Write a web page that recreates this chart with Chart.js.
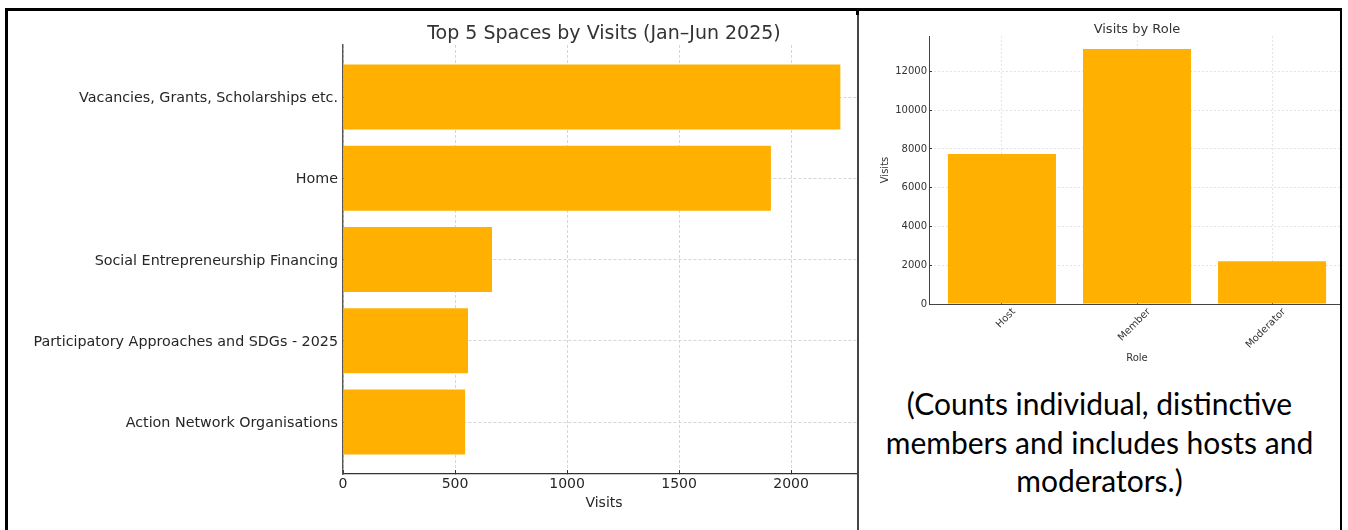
<!DOCTYPE html>
<html>
<head>
<meta charset="utf-8">
<script src="https://cdn.jsdelivr.net/npm/chart.js@4.4.1/dist/chart.umd.min.js"></script>
<style>
    body { margin: 0; background: #fff; width: 1348px; height: 530px; overflow: hidden; position: relative; }
    .line { position: absolute; background: #000; }
    .wrap { position: absolute; overflow: hidden; }
    #note {
        position: absolute; left: 859px; top: 384px; width: 481px;
        text-align: center; font-family: Lato, 'Open Sans', sans-serif;
        font-size: 30px; line-height: 38.5px; color: #000;
    }
</style>
</head>
<body>
<div class="wrap" style="left:8px;top:11px;width:849px;height:519px">
    <canvas id="spaces" width="880" height="519"></canvas>
</div>
<div class="wrap" style="left:859px;top:11px;width:481px;height:360px">
    <canvas id="roles" width="490" height="360"></canvas>
</div>
<div id="note">(Counts individual, distinctive<br>members and includes hosts and<br>moderators.)</div>
<div class="line" style="left:5px;top:8px;width:1337px;height:3px"></div>
<div class="line" style="left:5px;top:8px;width:3px;height:522px"></div>
<div class="line" style="left:857px;top:11px;width:2px;height:519px;background:#444"></div>
<div class="line" style="left:856px;top:10px;width:3px;height:5px"></div>
<div class="line" style="left:1340px;top:8px;width:2px;height:522px"></div>
<script>
// data
var spaceNames = ['Vacancies, Grants, Scholarships etc.', 'Home', 'Social Entrepreneurship Financing',
    'Participatory Approaches and SDGs - 2025', 'Action Network Organisations'];
var spaceVisits = [2220, 1910, 665, 558, 545];
var visitTicks = [0, 500, 1000, 1500, 2000];

var roleNames = ['Host', 'Member', 'Moderator'];
var roleVisits = [7740, 13160, 2200];
var roleTicks = [0, 2000, 4000, 6000, 8000, 10000, 12000];

var ORANGE = 'rgb(255, 176, 0)';
var FONT = 'DejaVu Sans';

// tick marks point into the plot (negative length), like the source figure
function gridOpts(color, tick) {
    return { color: color, lineWidth: 0.8, drawTicks: true, tickLength: -tick, tickColor: '#333', tickWidth: 1, offset: false };
}
function plain(v) { return String(v); }

new Chart(document.getElementById('spaces'), {
    type: 'bar',
    data: {
        datasets: [{
            data: spaceVisits.map(function (v, i) { return { x: v, y: i }; }),
            backgroundColor: ORANGE,
            barPercentage: 0.8,
            categoryPercentage: 1,
        }],
    },
    options: {
        indexAxis: 'y',
        responsive: false,
        animation: false,
        layout: { padding: { left: 0, right: 23, top: 0, bottom: 0 } },
        scales: {
            x: {
                type: 'linear', position: 'bottom', min: 0, max: 2330,
                afterBuildTicks: function (s) { s.ticks = visitTicks.map(function (v) { return { value: v }; }); },
                afterFit: function (s) { s.height = 56; },
                grid: gridOpts('#cccccc', 4),
                border: { display: true, color: '#333', width: 1.3, dash: [3, 2] },
                ticks: { padding: 6, color: '#262626', font: { family: FONT, size: 14 }, callback: plain },
                title: { display: true, text: 'Visits', color: '#262626', font: { family: FONT, size: 14 }, padding: { top: 0, bottom: 18.6 } },
            },
            y: {
                type: 'linear', offset: false, reverse: true, min: -0.64, max: 4.64,
                afterBuildTicks: function (s) { s.ticks = spaceNames.map(function (n, i) { return { value: i }; }); },
                afterFit: function (s) { s.width = 335; },
                grid: gridOpts('#cccccc', 4),
                border: { display: true, color: '#555', width: 1.4, dash: [3, 2] },
                ticks: {
                    padding: 9, labelOffset: 1.5, color: '#262626', font: { family: FONT, size: 14.3 },
                    callback: function (v) { return spaceNames[v]; },
                },
            },
        },
        plugins: {
            legend: { display: false },
            tooltip: { enabled: false },
            title: {
                display: true, fullSize: false, text: 'Top 5 Spaces by Visits (Jan\u2013Jun 2025)',
                color: '#333', font: { family: FONT, size: 19, weight: 'normal', lineHeight: 1.1 },
                padding: { top: 13, bottom: 0.1 },
            },
        },
    },
});

new Chart(document.getElementById('roles'), {
    type: 'bar',
    data: {
        datasets: [{
            data: roleVisits.map(function (v, i) { return { x: i, y: v }; }),
            backgroundColor: ORANGE,
            barPercentage: 0.8,
            categoryPercentage: 1,
        }],
    },
    options: {
        responsive: false,
        animation: false,
        layout: { padding: { left: 0, right: 4, top: 0, bottom: 0 } },
        scales: {
            x: {
                type: 'linear', offset: false, min: -0.54, max: 2.54,
                afterBuildTicks: function (s) { s.ticks = roleNames.map(function (n, i) { return { value: i }; }); },
                afterFit: function (s) { s.height = 67; },
                grid: gridOpts('#dedede', 3),
                border: { display: true, color: '#444', width: 1, dash: [2, 2] },
                ticks: {
                    padding: 5, minRotation: 45, maxRotation: 45, autoSkip: false, labelOffset: 12,
                    color: '#333', font: { family: FONT, size: 10 },
                    callback: function (v) { return roleNames[v]; },
                },
                title: { display: true, text: 'Role', color: '#333', font: { family: FONT, size: 10 }, padding: { top: 0, bottom: 7 } },
            },
            y: {
                type: 'linear', min: 0, max: 13830,
                afterBuildTicks: function (s) { s.ticks = roleTicks.map(function (v) { return { value: v }; }); },
                afterFit: function (s) { s.width = 70; },
                grid: gridOpts('#dedede', 3),
                border: { display: true, color: '#444', width: 1, dash: [2, 2] },
                ticks: { padding: 5, color: '#333', font: { family: FONT, size: 10 }, callback: plain },
                title: { display: true, text: 'Visits', color: '#333', font: { family: FONT, size: 10 }, padding: { top: 20, bottom: 0 } },
            },
        },
        plugins: {
            legend: { display: false },
            tooltip: { enabled: false },
            title: {
                display: true, fullSize: false, text: 'Visits by Role',
                color: '#333', font: { family: FONT, size: 13, weight: 'normal', lineHeight: 1 },
                padding: { top: 11.7, bottom: 0.3 },
            },
        },
    },
});
</script>
</body>
</html>
